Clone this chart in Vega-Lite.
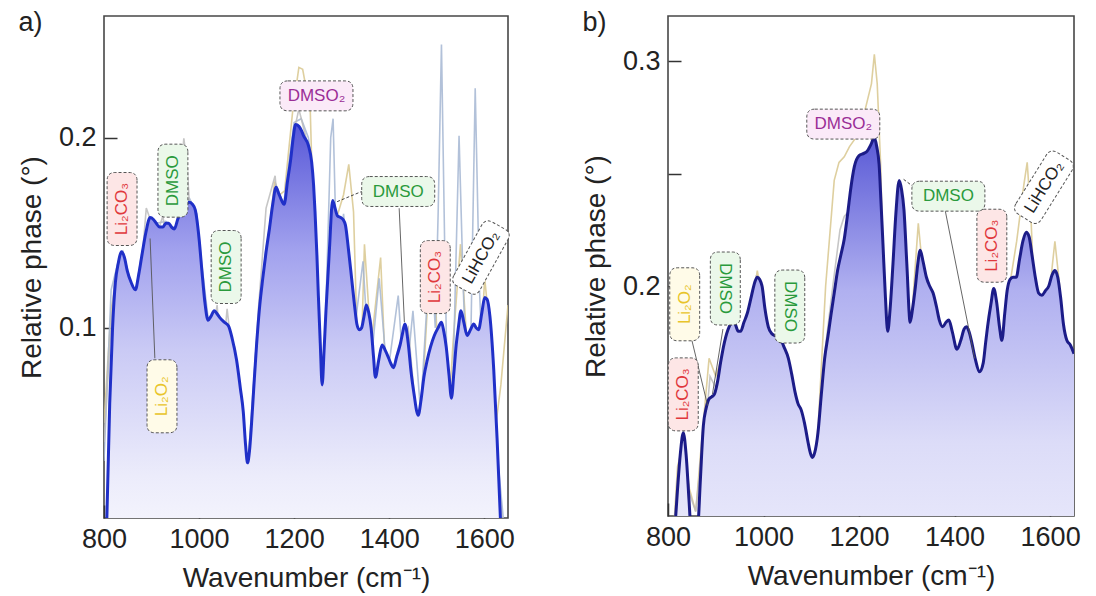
{
  "$schema": "https://vega.github.io/schema/vega-lite/v6.json",
  "padding": {"left": 17, "top": 8, "right": 5, "bottom": 5},
  "spacing": 65,
  "config": {
    "font": "Liberation Sans",
    "view": {"stroke": "#474747", "strokeWidth": 1.6},
    "axis": {
      "labelFont": "Liberation Sans", "titleFont": "Liberation Sans",
      "labelFontSize": 27, "titleFontSize": 28, "titleFontWeight": "normal",
      "labelColor": "#222", "titleColor": "#222",
      "tickSize": -13, "tickWidth": 1.5, "tickColor": "#333",
      "domain": false, "grid": false, "labelPadding": 21,
      "labelOverlap": false, "labelFlush": false, "titlePadding": 12
    }
  },
  "datasets": {
    "a_main": [
      {"x":800,"y":-0.03},{"x":806,"y":0.0},{"x":812,"y":0.06},{"x":818,"y":0.1},{"x":824,"y":0.124},{"x":830,"y":0.134},{"x":837,"y":0.140},{"x":843,"y":0.137},{"x":849,"y":0.130},{"x":857,"y":0.124},{"x":866,"y":0.120},{"x":873,"y":0.128},{"x":879,"y":0.137},{"x":888,"y":0.150},{"x":897,"y":0.158},{"x":904,"y":0.157},{"x":910,"y":0.155},{"x":917,"y":0.153},{"x":924,"y":0.153},{"x":930,"y":0.155},{"x":936,"y":0.155},{"x":942,"y":0.153},{"x":948,"y":0.152},{"x":955,"y":0.157},{"x":962,"y":0.161},{"x":970,"y":0.164},{"x":979,"y":0.166},{"x":986,"y":0.165},{"x":992,"y":0.162},{"x":1000,"y":0.147},{"x":1006,"y":0.130},{"x":1012,"y":0.114},{"x":1019,"y":0.104},{"x":1025,"y":0.106},{"x":1032,"y":0.109},{"x":1039,"y":0.107},{"x":1045,"y":0.105},{"x":1053,"y":0.103},{"x":1062,"y":0.101},{"x":1070,"y":0.094},{"x":1079,"y":0.083},{"x":1087,"y":0.068},{"x":1093,"y":0.056},{"x":1098,"y":0.038},{"x":1102,"y":0.029},{"x":1106,"y":0.035},{"x":1110,"y":0.048},{"x":1115,"y":0.068},{"x":1121,"y":0.091},{"x":1127,"y":0.110},{"x":1134,"y":0.126},{"x":1141,"y":0.140},{"x":1148,"y":0.152},{"x":1155,"y":0.165},{"x":1162,"y":0.174},{"x":1167,"y":0.171},{"x":1172,"y":0.168},{"x":1179,"y":0.165},{"x":1186,"y":0.177},{"x":1193,"y":0.189},{"x":1198,"y":0.200},{"x":1203,"y":0.207},{"x":1210,"y":0.206},{"x":1215,"y":0.204},{"x":1220,"y":0.201},{"x":1230,"y":0.196},{"x":1237,"y":0.187},{"x":1241,"y":0.175},{"x":1244,"y":0.161},{"x":1248,"y":0.138},{"x":1251,"y":0.117},{"x":1255,"y":0.092},{"x":1259,"y":0.070},{"x":1263,"y":0.088},{"x":1267,"y":0.109},{"x":1274,"y":0.140},{"x":1281,"y":0.167},{"x":1286,"y":0.163},{"x":1291,"y":0.159},{"x":1298,"y":0.158},{"x":1303,"y":0.157},{"x":1308,"y":0.154},{"x":1314,"y":0.142},{"x":1321,"y":0.126},{"x":1327,"y":0.112},{"x":1332,"y":0.102},{"x":1337,"y":0.099},{"x":1342,"y":0.100},{"x":1347,"y":0.106},{"x":1352,"y":0.112},{"x":1357,"y":0.108},{"x":1362,"y":0.100},{"x":1367,"y":0.085},{"x":1371,"y":0.074},{"x":1378,"y":0.083},{"x":1385,"y":0.091},{"x":1392,"y":0.088},{"x":1399,"y":0.084},{"x":1404,"y":0.081},{"x":1409,"y":0.079},{"x":1416,"y":0.085},{"x":1423,"y":0.091},{"x":1428,"y":0.097},{"x":1433,"y":0.102},{"x":1440,"y":0.092},{"x":1446,"y":0.077},{"x":1453,"y":0.064},{"x":1458,"y":0.056},{"x":1461,"y":0.054},{"x":1467,"y":0.062},{"x":1473,"y":0.074},{"x":1480,"y":0.083},{"x":1487,"y":0.090},{"x":1495,"y":0.096},{"x":1503,"y":0.100},{"x":1510,"y":0.103},{"x":1515,"y":0.098},{"x":1520,"y":0.090},{"x":1526,"y":0.075},{"x":1531,"y":0.063},{"x":1536,"y":0.076},{"x":1541,"y":0.091},{"x":1546,"y":0.101},{"x":1551,"y":0.109},{"x":1557,"y":0.103},{"x":1564,"y":0.096},{"x":1571,"y":0.099},{"x":1578,"y":0.102},{"x":1583,"y":0.100},{"x":1588,"y":0.099},{"x":1595,"y":0.108},{"x":1601,"y":0.116},{"x":1606,"y":0.115},{"x":1612,"y":0.106},{"x":1620,"y":0.078},{"x":1627,"y":0.042},{"x":1634,"y":0.0},{"x":1642,"y":-0.04}
    ],
    "a_bg": [
      {"s":"tan","x":800,"y":0.05},{"s":"tan","x":815,"y":0.11},{"s":"tan","x":830,"y":0.13},{"s":"tan","x":840,"y":0.138},{"s":"tan","x":850,"y":0.128},{"s":"tan","x":866,"y":0.112},{"s":"tan","x":880,"y":0.135},{"s":"tan","x":895,"y":0.155},{"s":"tan","x":910,"y":0.150},{"s":"tan","x":925,"y":0.145},{"s":"tan","x":940,"y":0.135},{"s":"tan","x":955,"y":0.150},{"s":"tan","x":968,"y":0.170},{"s":"tan","x":980,"y":0.163},{"s":"tan","x":995,"y":0.150},{"s":"tan","x":1005,"y":0.120},{"s":"tan","x":1018,"y":0.080},{"s":"tan","x":1030,"y":0.100},{"s":"tan","x":1040,"y":0.083},{"s":"tan","x":1052,"y":0.103},{"s":"tan","x":1062,"y":0.092},{"s":"tan","x":1075,"y":0.090},{"s":"tan","x":1090,"y":0.055},{"s":"tan","x":1103,"y":0.018},{"s":"tan","x":1112,"y":0.045},{"s":"tan","x":1125,"y":0.095},{"s":"tan","x":1140,"y":0.135},{"s":"tan","x":1159,"y":0.177},{"s":"tan","x":1170,"y":0.170},{"s":"tan","x":1180,"y":0.172},{"s":"tan","x":1197,"y":0.214},{"s":"tan","x":1210,"y":0.237},{"s":"tan","x":1218,"y":0.236},{"s":"tan","x":1226,"y":0.225},{"s":"tan","x":1234,"y":0.214},{"s":"tan","x":1240,"y":0.161},{"s":"tan","x":1248,"y":0.09},{"s":"tan","x":1257,"y":0.042},{"s":"tan","x":1264,"y":0.065},{"s":"tan","x":1271,"y":0.091},{"s":"tan","x":1281,"y":0.158},{"s":"tan","x":1292,"y":0.160},{"s":"tan","x":1304,"y":0.170},{"s":"tan","x":1315,"y":0.186},{"s":"tan","x":1325,"y":0.161},{"s":"tan","x":1331,"y":0.109},{"s":"tan","x":1338,"y":0.056},{"s":"tan","x":1348,"y":0.144},{"s":"tan","x":1362,"y":0.091},{"s":"tan","x":1382,"y":0.137},{"s":"tan","x":1390,"y":0.09},{"s":"tan","x":1399,"y":0.018},{"s":"tan","x":1416,"y":0.074},{"s":"tan","x":1430,"y":0.06},{"s":"tan","x":1445,"y":0.08},{"s":"tan","x":1463,"y":0.034},{"s":"tan","x":1480,"y":0.109},{"s":"tan","x":1493,"y":0.144},{"s":"tan","x":1503,"y":0.08},{"s":"tan","x":1514,"y":0.007},{"s":"tan","x":1534,"y":0.091},{"s":"tan","x":1550,"y":0.144},{"s":"tan","x":1564,"y":0.091},{"s":"tan","x":1574,"y":0.021},{"s":"tan","x":1588,"y":0.07},{"s":"tan","x":1601,"y":0.126},{"s":"tan","x":1615,"y":0.09},{"s":"tan","x":1625,"y":0.05},{"s":"tan","x":1635,"y":0.07},{"s":"tan","x":1650,"y":0.112},
      {"s":"slate","x":800,"y":0.03},{"s":"slate","x":815,"y":0.12},{"s":"slate","x":830,"y":0.135},{"s":"slate","x":840,"y":0.14},{"s":"slate","x":855,"y":0.125},{"s":"slate","x":866,"y":0.118},{"s":"slate","x":880,"y":0.14},{"s":"slate","x":895,"y":0.157},{"s":"slate","x":910,"y":0.155},{"s":"slate","x":930,"y":0.156},{"s":"slate","x":950,"y":0.152},{"s":"slate","x":965,"y":0.163},{"s":"slate","x":980,"y":0.168},{"s":"slate","x":995,"y":0.16},{"s":"slate","x":1005,"y":0.135},{"s":"slate","x":1020,"y":0.103},{"s":"slate","x":1035,"y":0.108},{"s":"slate","x":1060,"y":0.1},{"s":"slate","x":1080,"y":0.08},{"s":"slate","x":1102,"y":0.025},{"s":"slate","x":1120,"y":0.09},{"s":"slate","x":1140,"y":0.14},{"s":"slate","x":1162,"y":0.175},{"s":"slate","x":1178,"y":0.165},{"s":"slate","x":1200,"y":0.208},{"s":"slate","x":1215,"y":0.21},{"s":"slate","x":1230,"y":0.2},{"s":"slate","x":1240,"y":0.18},{"s":"slate","x":1250,"y":0.11},{"s":"slate","x":1259,"y":0.05},{"s":"slate","x":1268,"y":0.12},{"s":"slate","x":1277,"y":0.20},{"s":"slate","x":1282,"y":0.21},{"s":"slate","x":1287,"y":0.16},{"s":"slate","x":1291,"y":0.109},{"s":"slate","x":1297,"y":0.14},{"s":"slate","x":1304,"y":0.16},{"s":"slate","x":1315,"y":0.13},{"s":"slate","x":1330,"y":0.105},{"s":"slate","x":1345,"y":0.135},{"s":"slate","x":1359,"y":0.074},{"s":"slate","x":1379,"y":0.126},{"s":"slate","x":1396,"y":0.074},{"s":"slate","x":1419,"y":0.117},{"s":"slate","x":1433,"y":0.065},{"s":"slate","x":1450,"y":0.109},{"s":"slate","x":1466,"y":0.056},{"s":"slate","x":1487,"y":0.144},{"s":"slate","x":1497,"y":0.10},{"s":"slate","x":1503,"y":0.16},{"s":"slate","x":1510,"y":0.249},{"s":"slate","x":1517,"y":0.14},{"s":"slate","x":1527,"y":0.004},{"s":"slate","x":1537,"y":0.10},{"s":"slate","x":1547,"y":0.201},{"s":"slate","x":1556,"y":0.12},{"s":"slate","x":1568,"y":0.039},{"s":"slate","x":1575,"y":0.14},{"s":"slate","x":1581,"y":0.226},{"s":"slate","x":1590,"y":0.12},{"s":"slate","x":1601,"y":0.056},{"s":"slate","x":1612,"y":0.09},{"s":"slate","x":1625,"y":0.04},{"s":"slate","x":1640,"y":0.0},{"s":"slate","x":1650,"y":-0.02},
      {"s":"grey","x":800,"y":0.04},{"s":"grey","x":812,"y":0.09},{"s":"grey","x":822,"y":0.125},{"s":"grey","x":835,"y":0.138},{"s":"grey","x":848,"y":0.13},{"s":"grey","x":858,"y":0.12},{"s":"grey","x":869,"y":0.1035},{"s":"grey","x":878,"y":0.13},{"s":"grey","x":889,"y":0.163},{"s":"grey","x":900,"y":0.155},{"s":"grey","x":910,"y":0.148},{"s":"grey","x":924,"y":0.159},{"s":"grey","x":933,"y":0.14},{"s":"grey","x":941,"y":0.131},{"s":"grey","x":950,"y":0.145},{"s":"grey","x":958,"y":0.17},{"s":"grey","x":968,"y":0.1997},{"s":"grey","x":975,"y":0.185},{"s":"grey","x":979,"y":0.168},{"s":"grey","x":990,"y":0.135},{"s":"grey","x":1000,"y":0.11},{"s":"grey","x":1010,"y":0.09},{"s":"grey","x":1021,"y":0.079},{"s":"grey","x":1030,"y":0.10},{"s":"grey","x":1038,"y":0.112},{"s":"grey","x":1048,"y":0.079},{"s":"grey","x":1059,"y":0.110},{"s":"grey","x":1068,"y":0.09},{"s":"grey","x":1080,"y":0.07},{"s":"grey","x":1092,"y":0.04},{"s":"grey","x":1100,"y":0.021},{"s":"grey","x":1110,"y":0.05},{"s":"grey","x":1125,"y":0.11},{"s":"grey","x":1141,"y":0.163},{"s":"grey","x":1160,"y":0.180},{"s":"grey","x":1170,"y":0.15},{"s":"grey","x":1179,"y":0.123},{"s":"grey","x":1188,"y":0.16},{"s":"grey","x":1197,"y":0.20},{"s":"grey","x":1210,"y":0.215},{"s":"grey","x":1225,"y":0.20},{"s":"grey","x":1237,"y":0.15},{"s":"grey","x":1245,"y":0.14},{"s":"grey","x":1255,"y":0.08},{"s":"grey","x":1262,"y":0.06},{"s":"grey","x":1272,"y":0.12},{"s":"grey","x":1282,"y":0.16},{"s":"grey","x":1294,"y":0.13},{"s":"grey","x":1306,"y":0.14},{"s":"grey","x":1320,"y":0.11},{"s":"grey","x":1335,"y":0.09},{"s":"grey","x":1350,"y":0.10},{"s":"grey","x":1365,"y":0.07},{"s":"grey","x":1385,"y":0.085},{"s":"grey","x":1400,"y":0.07},{"s":"grey","x":1420,"y":0.09},{"s":"grey","x":1440,"y":0.10},{"s":"grey","x":1460,"y":0.045},{"s":"grey","x":1480,"y":0.08},{"s":"grey","x":1500,"y":0.09},{"s":"grey","x":1515,"y":0.07},{"s":"grey","x":1530,"y":0.03},{"s":"grey","x":1545,"y":0.09},{"s":"grey","x":1560,"y":0.07},{"s":"grey","x":1580,"y":0.10},{"s":"grey","x":1600,"y":0.10},{"s":"grey","x":1615,"y":0.08},{"s":"grey","x":1630,"y":0.02},{"s":"grey","x":1645,"y":-0.02}
    ],
    "a_lab_v": [
      {"x":838,"y":0.1625,"t":"Li₂CO₃","c":"Li2CO3"},
      {"x":945,"y":0.1774,"t":"DMSO","c":"DMSO"},
      {"x":1057,"y":0.132,"t":"DMSO","c":"DMSO"},
      {"x":922,"y":0.064,"t":"Li₂O₂","c":"Li2O2"},
      {"x":1497,"y":0.1267,"t":"Li₂CO₃","c":"Li2CO3"}
    ],
    "a_lab_h": [
      {"x":1247,"y":0.222,"t":"DMSO₂","c":"DMSO2"},
      {"x":1419,"y":0.1717,"t":"DMSO","c":"DMSO"}
    ],
    "a_lab_d": [
      {"x":1593,"y":0.137,"t":"LiHCO₂","c":"LiHCO2"}
    ],
    "a_lead": [
      {"x":897,"y":0.147,"x2":907,"y2":0.084},
      {"x":1421,"y":0.1629,"x2":1432,"y2":0.103}
    ],
    "a_lead_dash": [
      {"x":1345,"y":0.172,"x2":1287,"y2":0.166}
    ],
    "b_main": [
      {"x":800,"y":0.04},{"x":812,"y":0.085},{"x":820,"y":0.11},{"x":826,"y":0.126},{"x":832,"y":0.135},{"x":838,"y":0.125},{"x":844,"y":0.105},{"x":850,"y":0.085},{"x":856,"y":0.08},{"x":862,"y":0.09},{"x":868,"y":0.115},{"x":874,"y":0.138},{"x":880,"y":0.146},{"x":886,"y":0.150},{"x":892,"y":0.151},{"x":897,"y":0.152},{"x":904,"y":0.158},{"x":910,"y":0.166},{"x":918,"y":0.175},{"x":928,"y":0.182},{"x":935,"y":0.184},{"x":941,"y":0.183},{"x":947,"y":0.180},{"x":952,"y":0.180},{"x":959,"y":0.184},{"x":966,"y":0.188},{"x":975,"y":0.196},{"x":982,"y":0.202},{"x":987,"y":0.204},{"x":992,"y":0.203},{"x":997,"y":0.200},{"x":1003,"y":0.190},{"x":1010,"y":0.182},{"x":1017,"y":0.179},{"x":1025,"y":0.178},{"x":1034,"y":0.177},{"x":1043,"y":0.173},{"x":1052,"y":0.168},{"x":1059,"y":0.161},{"x":1066,"y":0.153},{"x":1072,"y":0.148},{"x":1079,"y":0.145},{"x":1086,"y":0.139},{"x":1093,"y":0.131},{"x":1098,"y":0.126},{"x":1102,"y":0.124},{"x":1107,"y":0.126},{"x":1114,"y":0.135},{"x":1121,"y":0.152},{"x":1128,"y":0.168},{"x":1135,"y":0.178},{"x":1141,"y":0.187},{"x":1148,"y":0.197},{"x":1155,"y":0.207},{"x":1162,"y":0.214},{"x":1169,"y":0.221},{"x":1176,"y":0.232},{"x":1183,"y":0.244},{"x":1190,"y":0.253},{"x":1200,"y":0.258},{"x":1210,"y":0.259},{"x":1217,"y":0.260},{"x":1225,"y":0.263},{"x":1232,"y":0.266},{"x":1237,"y":0.262},{"x":1242,"y":0.254},{"x":1246,"y":0.237},{"x":1250,"y":0.219},{"x":1255,"y":0.196},{"x":1260,"y":0.180},{"x":1265,"y":0.190},{"x":1271,"y":0.210},{"x":1277,"y":0.232},{"x":1284,"y":0.247},{"x":1289,"y":0.243},{"x":1294,"y":0.234},{"x":1300,"y":0.210},{"x":1307,"y":0.184},{"x":1312,"y":0.190},{"x":1318,"y":0.200},{"x":1323,"y":0.210},{"x":1328,"y":0.216},{"x":1334,"y":0.211},{"x":1341,"y":0.204},{"x":1348,"y":0.200},{"x":1355,"y":0.197},{"x":1362,"y":0.191},{"x":1368,"y":0.185},{"x":1375,"y":0.182},{"x":1382,"y":0.184},{"x":1388,"y":0.185},{"x":1395,"y":0.180},{"x":1405,"y":0.172},{"x":1413,"y":0.176},{"x":1420,"y":0.181},{"x":1425,"y":0.182},{"x":1430,"y":0.180},{"x":1435,"y":0.176},{"x":1443,"y":0.168},{"x":1452,"y":0.162},{"x":1460,"y":0.166},{"x":1465,"y":0.175},{"x":1469,"y":0.182},{"x":1476,"y":0.192},{"x":1482,"y":0.199},{"x":1488,"y":0.193},{"x":1494,"y":0.182},{"x":1499,"y":0.176},{"x":1505,"y":0.188},{"x":1510,"y":0.198},{"x":1516,"y":0.203},{"x":1522,"y":0.204},{"x":1529,"y":0.204},{"x":1536,"y":0.212},{"x":1543,"y":0.220},{"x":1550,"y":0.224},{"x":1556,"y":0.222},{"x":1562,"y":0.214},{"x":1569,"y":0.204},{"x":1576,"y":0.197},{"x":1583,"y":0.196},{"x":1590,"y":0.198},{"x":1597,"y":0.200},{"x":1604,"y":0.205},{"x":1610,"y":0.207},{"x":1616,"y":0.204},{"x":1622,"y":0.195},{"x":1628,"y":0.183},{"x":1635,"y":0.176},{"x":1642,"y":0.174},{"x":1650,"y":0.170}
    ],
    "b_bg": [
      {"s":"tan","x":800,"y":0.05},{"s":"tan","x":820,"y":0.12},{"s":"tan","x":832,"y":0.13},{"s":"tan","x":845,"y":0.11},{"s":"tan","x":858,"y":0.10},{"s":"tan","x":870,"y":0.13},{"s":"tan","x":886,"y":0.168},{"s":"tan","x":900,"y":0.16},{"s":"tan","x":915,"y":0.17},{"s":"tan","x":930,"y":0.178},{"s":"tan","x":945,"y":0.17},{"s":"tan","x":960,"y":0.175},{"s":"tan","x":975,"y":0.19},{"s":"tan","x":987,"y":0.207},{"s":"tan","x":1000,"y":0.19},{"s":"tan","x":1015,"y":0.17},{"s":"tan","x":1030,"y":0.165},{"s":"tan","x":1050,"y":0.155},{"s":"tan","x":1070,"y":0.14},{"s":"tan","x":1090,"y":0.12},{"s":"tan","x":1102,"y":0.11},{"s":"tan","x":1115,"y":0.14},{"s":"tan","x":1130,"y":0.2},{"s":"tan","x":1148,"y":0.247},{"s":"tan","x":1158,"y":0.255},{"s":"tan","x":1169,"y":0.2575},{"s":"tan","x":1180,"y":0.262},{"s":"tan","x":1190,"y":0.265},{"s":"tan","x":1204,"y":0.271},{"s":"tan","x":1218,"y":0.283},{"s":"tan","x":1226,"y":0.29},{"s":"tan","x":1232,"y":0.303},{"s":"tan","x":1238,"y":0.29},{"s":"tan","x":1245,"y":0.255},{"s":"tan","x":1252,"y":0.2},{"s":"tan","x":1258,"y":0.11},{"s":"tan","x":1262,"y":0.05},{"s":"tan","x":1268,"y":0.12},{"s":"tan","x":1276,"y":0.21},{"s":"tan","x":1284,"y":0.24},{"s":"tan","x":1292,"y":0.23},{"s":"tan","x":1300,"y":0.195},{"s":"tan","x":1310,"y":0.185},{"s":"tan","x":1318,"y":0.21},{"s":"tan","x":1324,"y":0.228},{"s":"tan","x":1332,"y":0.21},{"s":"tan","x":1345,"y":0.19},{"s":"tan","x":1360,"y":0.17},{"s":"tan","x":1375,"y":0.16},{"s":"tan","x":1385,"y":0.175},{"s":"tan","x":1400,"y":0.155},{"s":"tan","x":1415,"y":0.165},{"s":"tan","x":1430,"y":0.16},{"s":"tan","x":1445,"y":0.16},{"s":"tan","x":1455,"y":0.15},{"s":"tan","x":1470,"y":0.17},{"s":"tan","x":1485,"y":0.19},{"s":"tan","x":1500,"y":0.165},{"s":"tan","x":1515,"y":0.2},{"s":"tan","x":1530,"y":0.22},{"s":"tan","x":1545,"y":0.245},{"s":"tan","x":1552,"y":0.255},{"s":"tan","x":1560,"y":0.23},{"s":"tan","x":1570,"y":0.18},{"s":"tan","x":1585,"y":0.175},{"s":"tan","x":1600,"y":0.2},{"s":"tan","x":1610,"y":0.22},{"s":"tan","x":1620,"y":0.2},{"s":"tan","x":1632,"y":0.16},{"s":"tan","x":1642,"y":0.15},{"s":"tan","x":1650,"y":0.145},
      {"s":"grey","x":800,"y":0.05},{"s":"grey","x":820,"y":0.115},{"s":"grey","x":832,"y":0.132},{"s":"grey","x":845,"y":0.108},{"s":"grey","x":858,"y":0.1},{"s":"grey","x":870,"y":0.125},{"s":"grey","x":880,"y":0.14},{"s":"grey","x":888,"y":0.16},{"s":"grey","x":900,"y":0.155},{"s":"grey","x":915,"y":0.165},{"s":"grey","x":930,"y":0.17},{"s":"grey","x":945,"y":0.168},{"s":"grey","x":960,"y":0.172},{"s":"grey","x":975,"y":0.19},{"s":"grey","x":985,"y":0.205},{"s":"grey","x":1000,"y":0.185},{"s":"grey","x":1015,"y":0.175},{"s":"grey","x":1030,"y":0.165},{"s":"grey","x":1050,"y":0.15},{"s":"grey","x":1070,"y":0.138},{"s":"grey","x":1090,"y":0.118},{"s":"grey","x":1103,"y":0.112},{"s":"grey","x":1115,"y":0.13},{"s":"grey","x":1128,"y":0.17},{"s":"grey","x":1145,"y":0.2},{"s":"grey","x":1160,"y":0.225},{"s":"grey","x":1169,"y":0.231},{"s":"grey","x":1185,"y":0.235},{"s":"grey","x":1200,"y":0.24},{"s":"grey","x":1221,"y":0.244},{"s":"grey","x":1232,"y":0.255},{"s":"grey","x":1240,"y":0.23},{"s":"grey","x":1248,"y":0.16},{"s":"grey","x":1255,"y":0.09},{"s":"grey","x":1260,"y":0.06},{"s":"grey","x":1266,"y":0.11},{"s":"grey","x":1275,"y":0.2},{"s":"grey","x":1284,"y":0.235},{"s":"grey","x":1295,"y":0.22},{"s":"grey","x":1305,"y":0.18},{"s":"grey","x":1318,"y":0.195},{"s":"grey","x":1326,"y":0.21},{"s":"grey","x":1338,"y":0.19},{"s":"grey","x":1350,"y":0.18},{"s":"grey","x":1365,"y":0.165},{"s":"grey","x":1378,"y":0.17},{"s":"grey","x":1392,"y":0.16},{"s":"grey","x":1405,"y":0.168},{"s":"grey","x":1420,"y":0.17},{"s":"grey","x":1435,"y":0.17},{"s":"grey","x":1450,"y":0.155},{"s":"grey","x":1465,"y":0.165},{"s":"grey","x":1480,"y":0.185},{"s":"grey","x":1495,"y":0.175},{"s":"grey","x":1506,"y":0.165},{"s":"grey","x":1520,"y":0.19},{"s":"grey","x":1535,"y":0.2},{"s":"grey","x":1552,"y":0.21},{"s":"grey","x":1565,"y":0.2},{"s":"grey","x":1580,"y":0.18},{"s":"grey","x":1595,"y":0.185},{"s":"grey","x":1610,"y":0.195},{"s":"grey","x":1622,"y":0.18},{"s":"grey","x":1635,"y":0.16},{"s":"grey","x":1650,"y":0.15}
    ],
    "b_lab_up": [
      {"x":835,"y":0.192,"t":"Li₂O₂","c":"Li2O2"},
      {"x":832,"y":0.152,"t":"Li₂CO₃","c":"Li2CO3"},
      {"x":1478,"y":0.218,"t":"Li₂CO₃","c":"Li2CO3"}
    ],
    "b_lab_down": [
      {"x":920,"y":0.199,"t":"DMSO","c":"DMSO"},
      {"x":1055,"y":0.191,"t":"DMSO","c":"DMSO"}
    ],
    "b_lab_h": [
      {"x":1167,"y":0.272,"t":"DMSO₂","c":"DMSO2"},
      {"x":1387,"y":0.240,"t":"DMSO","c":"DMSO"}
    ],
    "b_lab_d": [
      {"x":1587,"y":0.244,"t":"LiHCO₂","c":"LiHCO2"}
    ],
    "b_lead": [
      {"x":850,"y":0.176,"x2":883,"y2":0.147},
      {"x":915,"y":0.181,"x2":893,"y2":0.152},
      {"x":1380,"y":0.234,"x2":1442,"y2":0.168}
    ],
    "b_lead_dash": [
      {"x":1315,"y":0.244,"x2":1290,"y2":0.248}
    ]
  },
  "hconcat": [
    {
      "width": 404,
      "height": 502,
      "title": {"text": "a)", "anchor": "start", "frame": "bounds", "orient": "top", "fontSize": 27, "fontWeight": "normal", "font": "Liberation Sans", "color": "#222", "baseline": "alphabetic", "offset": -42},
      "encoding": {
        "x": {"field": "x", "type": "quantitative", "scale": {"domain": [800, 1650], "nice": false, "zero": false},
              "axis": {"values": [800, 1000, 1200, 1400, 1600], "format": "d", "title": "Wavenumber (cm⁻¹)"}},
        "y": {"field": "y", "type": "quantitative", "scale": {"domain": [0, 0.264], "nice": false, "zero": false},
              "axis": {"values": [0.1, 0.2], "format": ".1f", "title": "Relative phase (°)"}}
      },
      "layer": [
        {"data": {"name": "a_bg"}, "mark": {"type": "line", "clip": true, "strokeWidth": 1.6, "opacity": 0.85},
         "encoding": {"stroke": {"field": "s", "type": "nominal", "scale": {"domain": ["tan", "slate", "grey"], "range": ["#d8c78e", "#a4b6d2", "#bcbcbc"]}, "legend": null}}},
        {"data": {"name": "a_main"}, "mark": {"type": "area", "clip": true, "interpolate": "monotone",
          "color": {"gradient": "linear", "x1": 0, "y1": 0, "x2": 0, "y2": 1, "stops": [{"offset": 0, "color": "#5858d8"}, {"offset": 0.27, "color": "#a2a2ee"}, {"offset": 0.48, "color": "#cacaf5"}, {"offset": 0.75, "color": "#ececfb"}, {"offset": 1, "color": "#ffffff"}]}},
         "encoding": {"y2": {"datum": 0}}},
        {"data": {"name": "a_main"}, "mark": {"type": "line", "clip": true, "interpolate": "monotone", "color": "#2030c8", "strokeWidth": 3}},
        {"data": {"name": "a_lead"}, "mark": {"type": "rule", "color": "#555", "strokeWidth": 0.9},
         "encoding": {"x2": {"field": "x2"}, "y2": {"field": "y2"}}},
        {"data": {"name": "a_lead_dash"}, "mark": {"type": "rule", "color": "#444", "strokeWidth": 1, "strokeDash": [3, 2]},
         "encoding": {"x2": {"field": "x2"}, "y2": {"field": "y2"}}},
        {"data": {"name": "a_lab_v"}, "mark": {"type": "point", "shape": "M-0.78,-0.41L0.78,-0.41Q1,-0.41 1,-0.19L1,0.19Q1,0.41 0.78,0.41L-0.78,0.41Q-1,0.41 -1,0.19L-1,-0.19Q-1,-0.41 -0.78,-0.41Z", "size": 5329, "filled": true, "opacity": 1, "stroke": "#555", "strokeWidth": 1, "strokeDash": [3, 2], "angle": 90},
         "encoding": {"fill": {"field": "c", "type": "nominal", "scale": {"domain": ["Li2CO3", "DMSO", "DMSO2", "Li2O2", "LiHCO2"], "range": ["#fde6e6", "#ebf8ea", "#fbeaf8", "#fffbe8", "#ffffff"]}, "legend": null}}},
        {"data": {"name": "a_lab_h"}, "mark": {"type": "point", "shape": "M-0.78,-0.41L0.78,-0.41Q1,-0.41 1,-0.19L1,0.19Q1,0.41 0.78,0.41L-0.78,0.41Q-1,0.41 -1,0.19L-1,-0.19Q-1,-0.41 -0.78,-0.41Z", "size": 5329, "filled": true, "opacity": 1, "stroke": "#555", "strokeWidth": 1, "strokeDash": [3, 2], "angle": 0},
         "encoding": {"fill": {"field": "c", "type": "nominal", "legend": null}}},
        {"data": {"name": "a_lab_d"}, "mark": {"type": "point", "shape": "M-0.78,-0.41L0.78,-0.41Q1,-0.41 1,-0.19L1,0.19Q1,0.41 0.78,0.41L-0.78,0.41Q-1,0.41 -1,0.19L-1,-0.19Q-1,-0.41 -0.78,-0.41Z", "size": 5329, "filled": true, "opacity": 1, "stroke": "#555", "strokeWidth": 1, "strokeDash": [3, 2], "angle": -61},
         "encoding": {"fill": {"field": "c", "type": "nominal", "legend": null}}},
        {"data": {"name": "a_lab_v"}, "mark": {"type": "text", "angle": -90, "fontSize": 17, "align": "center", "baseline": "middle"},
         "encoding": {"text": {"field": "t"}, "color": {"field": "c", "type": "nominal", "scale": {"domain": ["Li2CO3", "DMSO", "DMSO2", "Li2O2", "LiHCO2"], "range": ["#e0383c", "#2a9a3c", "#9a2e96", "#e8c42a", "#222222"]}, "legend": null}}},
        {"data": {"name": "a_lab_h"}, "mark": {"type": "text", "angle": 0, "fontSize": 17, "align": "center", "baseline": "middle"},
         "encoding": {"text": {"field": "t"}, "color": {"field": "c", "type": "nominal", "legend": null}}},
        {"data": {"name": "a_lab_d"}, "mark": {"type": "text", "angle": -61, "fontSize": 17, "align": "center", "baseline": "middle"},
         "encoding": {"text": {"field": "t"}, "color": {"field": "c", "type": "nominal", "legend": null}}}
      ]
    },
    {
      "width": 406,
      "height": 500,
      "title": {"text": "b)", "anchor": "start", "frame": "bounds", "orient": "top", "fontSize": 27, "fontWeight": "normal", "font": "Liberation Sans", "color": "#222", "baseline": "alphabetic", "offset": -42},
      "encoding": {
        "x": {"field": "x", "type": "quantitative", "scale": {"domain": [800, 1650], "nice": false, "zero": false},
              "axis": {"values": [800, 1000, 1200, 1400, 1600], "format": "d", "title": "Wavenumber (cm⁻¹)"}},
        "y": {"field": "y", "type": "quantitative", "scale": {"domain": [0.098, 0.32], "nice": false, "zero": false},
              "axis": {"values": [0.2, 0.25, 0.3], "labelExpr": "datum.value == 0.25 ? '' : format(datum.value, '.1f')", "title": "Relative phase (°)"}}
      },
      "layer": [
        {"data": {"name": "b_bg"}, "mark": {"type": "line", "clip": true, "strokeWidth": 1.6, "opacity": 0.85},
         "encoding": {"stroke": {"field": "s", "type": "nominal", "scale": {"domain": ["tan", "grey"], "range": ["#d8cca2", "#c2c2c2"]}, "legend": null}}},
        {"data": {"name": "b_main"}, "mark": {"type": "area", "clip": true, "interpolate": "monotone",
          "color": {"gradient": "linear", "x1": 0, "y1": 0, "x2": 0, "y2": 1, "stops": [{"offset": 0, "color": "#5a5ad6"}, {"offset": 0.3, "color": "#b0b0f0"}, {"offset": 0.6, "color": "#dcdcf8"}, {"offset": 1, "color": "#f6f6fe"}]}},
         "encoding": {"y2": {"datum": 0.098}}},
        {"data": {"name": "b_main"}, "mark": {"type": "line", "clip": true, "interpolate": "monotone", "color": "#1c1c88", "strokeWidth": 3}},
        {"data": {"name": "b_lead"}, "mark": {"type": "rule", "color": "#555", "strokeWidth": 0.9},
         "encoding": {"x2": {"field": "x2"}, "y2": {"field": "y2"}}},
        {"data": {"name": "b_lead_dash"}, "mark": {"type": "rule", "color": "#444", "strokeWidth": 1, "strokeDash": [3, 2]},
         "encoding": {"x2": {"field": "x2"}, "y2": {"field": "y2"}}},
        {"data": {"name": "b_lab_up"}, "mark": {"type": "point", "shape": "M-0.78,-0.41L0.78,-0.41Q1,-0.41 1,-0.19L1,0.19Q1,0.41 0.78,0.41L-0.78,0.41Q-1,0.41 -1,0.19L-1,-0.19Q-1,-0.41 -0.78,-0.41Z", "size": 5329, "filled": true, "opacity": 1, "stroke": "#555", "strokeWidth": 1, "strokeDash": [3, 2], "angle": 90},
         "encoding": {"fill": {"field": "c", "type": "nominal", "scale": {"domain": ["Li2CO3", "DMSO", "DMSO2", "Li2O2", "LiHCO2"], "range": ["#fde6e6", "#ebf8ea", "#fbeaf8", "#fffbe8", "#ffffff"]}, "legend": null}}},
        {"data": {"name": "b_lab_down"}, "mark": {"type": "point", "shape": "M-0.78,-0.41L0.78,-0.41Q1,-0.41 1,-0.19L1,0.19Q1,0.41 0.78,0.41L-0.78,0.41Q-1,0.41 -1,0.19L-1,-0.19Q-1,-0.41 -0.78,-0.41Z", "size": 5329, "filled": true, "opacity": 1, "stroke": "#555", "strokeWidth": 1, "strokeDash": [3, 2], "angle": 90},
         "encoding": {"fill": {"field": "c", "type": "nominal", "legend": null}}},
        {"data": {"name": "b_lab_h"}, "mark": {"type": "point", "shape": "M-0.78,-0.41L0.78,-0.41Q1,-0.41 1,-0.19L1,0.19Q1,0.41 0.78,0.41L-0.78,0.41Q-1,0.41 -1,0.19L-1,-0.19Q-1,-0.41 -0.78,-0.41Z", "size": 5329, "filled": true, "opacity": 1, "stroke": "#555", "strokeWidth": 1, "strokeDash": [3, 2], "angle": 0},
         "encoding": {"fill": {"field": "c", "type": "nominal", "legend": null}}},
        {"data": {"name": "b_lab_d"}, "mark": {"type": "point", "shape": "M-0.78,-0.41L0.78,-0.41Q1,-0.41 1,-0.19L1,0.19Q1,0.41 0.78,0.41L-0.78,0.41Q-1,0.41 -1,0.19L-1,-0.19Q-1,-0.41 -0.78,-0.41Z", "size": 5329, "filled": true, "opacity": 1, "stroke": "#555", "strokeWidth": 1, "strokeDash": [3, 2], "angle": -58},
         "encoding": {"fill": {"field": "c", "type": "nominal", "legend": null}}},
        {"data": {"name": "b_lab_up"}, "mark": {"type": "text", "angle": -90, "fontSize": 17, "align": "center", "baseline": "middle"},
         "encoding": {"text": {"field": "t"}, "color": {"field": "c", "type": "nominal", "scale": {"domain": ["Li2CO3", "DMSO", "DMSO2", "Li2O2", "LiHCO2"], "range": ["#d0403f", "#2f9a42", "#8a2a86", "#e6c43a", "#222222"]}, "legend": null}}},
        {"data": {"name": "b_lab_down"}, "mark": {"type": "text", "angle": 90, "fontSize": 17, "align": "center", "baseline": "middle"},
         "encoding": {"text": {"field": "t"}, "color": {"field": "c", "type": "nominal", "legend": null}}},
        {"data": {"name": "b_lab_h"}, "mark": {"type": "text", "angle": 0, "fontSize": 17, "align": "center", "baseline": "middle"},
         "encoding": {"text": {"field": "t"}, "color": {"field": "c", "type": "nominal", "legend": null}}},
        {"data": {"name": "b_lab_d"}, "mark": {"type": "text", "angle": -58, "fontSize": 17, "align": "center", "baseline": "middle"},
         "encoding": {"text": {"field": "t"}, "color": {"field": "c", "type": "nominal", "legend": null}}}
      ]
    }
  ]
}
